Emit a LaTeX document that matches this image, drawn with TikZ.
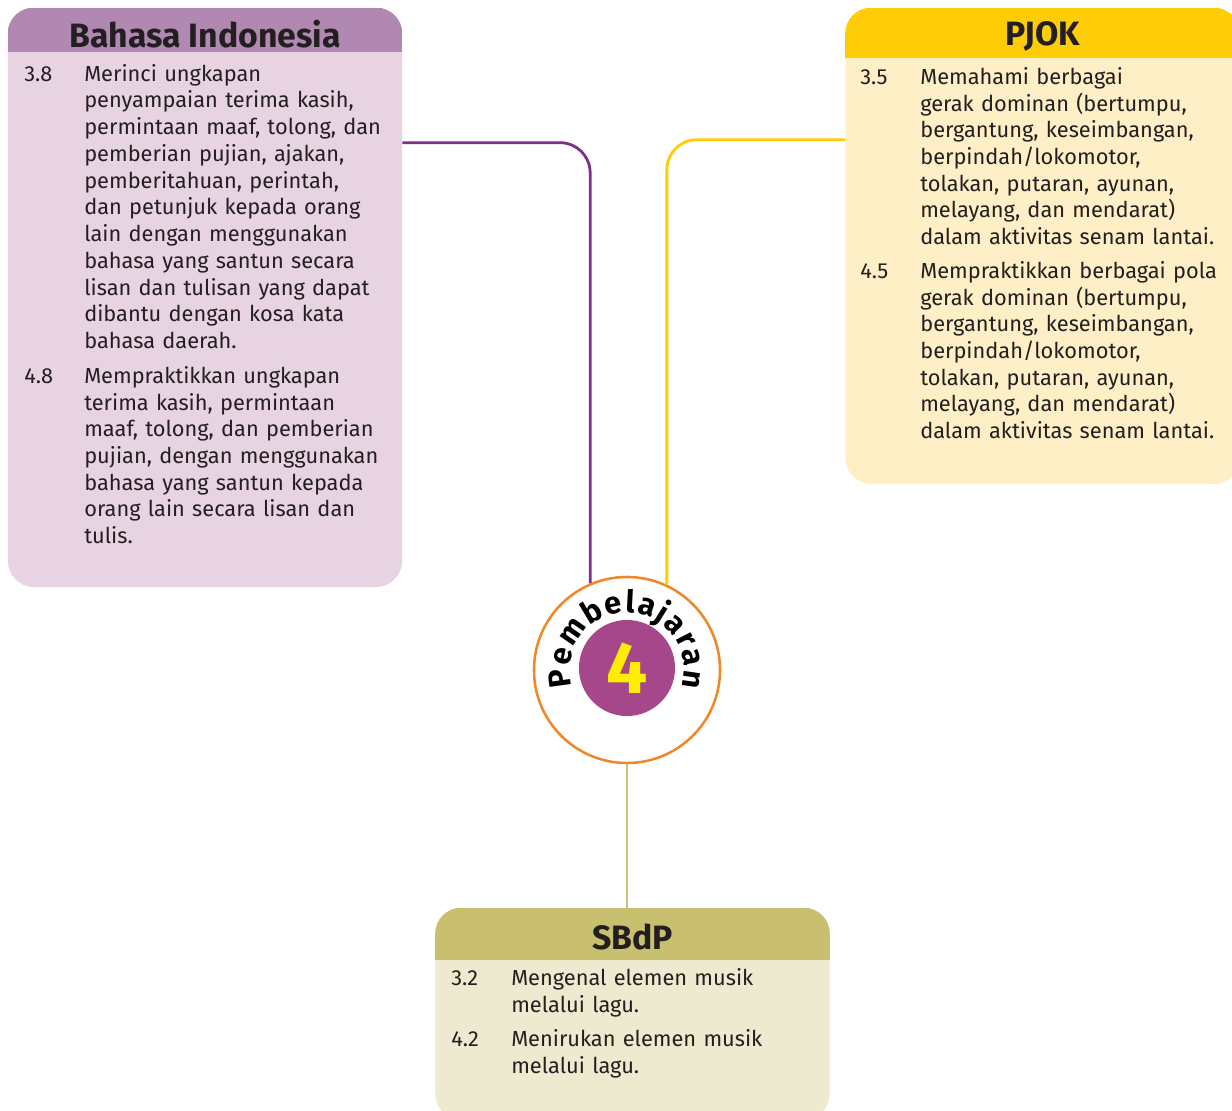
\documentclass[tikz,border=0pt]{standalone}
\usepackage{fontspec}
\setmainfont{Fira Sans}
\usetikzlibrary{decorations.text}

\definecolor{bindhead}{HTML}{B088B2}
\definecolor{bindbody}{HTML}{E8D3E3}
\definecolor{bindline}{HTML}{7E2F87}
\definecolor{pjokhead}{HTML}{FFCC08}
\definecolor{pjokbody}{HTML}{FFEFC6}
\definecolor{sbdphead}{HTML}{C8C06E}
\definecolor{sbdpbody}{HTML}{EEEAD0}
\definecolor{sbdpline}{HTML}{C9C27A}
\definecolor{ringline}{HTML}{F0882A}
\definecolor{ringfill}{HTML}{A5478A}
\definecolor{numyellow}{HTML}{FFEE00}
\definecolor{inktext}{HTML}{231F20}

\newcommand{\kdfont}{\fontsize{15.5}{19}\selectfont}
\newcommand{\headfont}{\fontsize{24}{28}\selectfont\bfseries}
\newcommand{\pemfont}{\fontsize{22}{22}\selectfont\bfseries}
\newcommand{\kditem}[2]{\makebox[1.5cm][l]{#1}\parbox[t]{8cm}{#2}}

\begin{document}
\begin{tikzpicture}[
    x=0.025cm, y=0.025cm,
    subjbox/.style={rectangle, rounded corners=0.65cm, minimum width=9.85cm, inner sep=0pt},
    headtext/.style={font=\headfont, text=inktext, inner sep=0pt},
    listtext/.style={anchor=north west, font=\kdfont, text=inktext, text width=9.6cm, align=left, inner sep=0pt},
    link/.style={line width=2pt, rounded corners=0.75cm}
]
\path[clip] (0,0) rectangle (1232,-1111);
\useasboundingbox (0,0) rectangle (1232,-1111);

% Subject boxes
\node[subjbox, fill=bindbody, minimum height=14.475cm] (bind) at (205,-297.5) {};
\node[subjbox, fill=pjokbody, minimum height=11.9cm] (pjok) at (1042.5,-246) {};
\node[subjbox, fill=sbdpbody, minimum height=5.3cm] (sbdp) at (632.5,-1014) {};

% Header bands
\begin{scope}
  \clip[rounded corners=0.65cm] (bind.south west) rectangle (bind.north east);
  \fill[bindhead] (bind.north west) rectangle ([yshift=-1.1cm]bind.north east);
\end{scope}
\begin{scope}
  \clip[rounded corners=0.65cm] (pjok.south west) rectangle (pjok.north east);
  \fill[pjokhead] (pjok.north west) rectangle ([yshift=-1.25cm]pjok.north east);
\end{scope}
\begin{scope}
  \clip[rounded corners=0.65cm] (sbdp.south west) rectangle (sbdp.north east);
  \fill[sbdphead] (sbdp.north west) rectangle ([yshift=-1.3cm]sbdp.north east);
\end{scope}

\node[headtext] (bindtitle) at ([yshift=-0.65cm]bind.north) {Bahasa Indonesia};
\node[headtext] (pjoktitle) at ([yshift=-0.72cm]pjok.north) {PJOK};
\node[headtext] (sbdptitle) at ([yshift=-0.72cm]sbdp.north) {SBdP};

% Competence lists
\node[listtext] (bindkd3) at (24,-64) {%
\kditem{3.8}{Merinci ungkapan\\ penyampaian terima kasih,\\ permintaan maaf, tolong, dan\\ pemberian pujian, ajakan,\\ pemberitahuan, perintah,\\ dan petunjuk kepada orang\\ lain dengan menggunakan\\ bahasa yang santun secara\\ lisan dan tulisan yang dapat\\ dibantu dengan kosa kata\\ bahasa daerah.}};
\node[listtext] (bindkd4) at (24,-366) {%
\kditem{4.8}{Mempraktikkan ungkapan\\ terima kasih, permintaan\\ maaf, tolong, dan pemberian\\ pujian, dengan menggunakan\\ bahasa yang santun kepada\\ orang lain secara lisan dan\\ tulis.}};

\node[listtext] (pjokkd3) at (860,-67) {%
\kditem{3.5}{Memahami berbagai\\ gerak dominan (bertumpu,\\ bergantung, keseimbangan,\\ berpindah/lokomotor,\\ tolakan, putaran, ayunan,\\ melayang, dan mendarat)\\ dalam aktivitas senam lantai.}};
\node[listtext] (pjokkd4) at (860,-261) {%
\kditem{4.5}{Mempraktikkan berbagai pola\\ gerak dominan (bertumpu,\\ bergantung, keseimbangan,\\ berpindah/lokomotor,\\ tolakan, putaran, ayunan,\\ melayang, dan mendarat)\\ dalam aktivitas senam lantai.}};

\node[listtext] (sbdpkd3) at (451,-968) {%
\kditem{3.2}{Mengenal elemen musik\\ melalui lagu.}};
\node[listtext] (sbdpkd4) at (451,-1029) {%
\kditem{4.2}{Menirukan elemen musik\\ melalui lagu.}};

% Centre badge
\node[circle, draw=ringline, line width=1.8pt, fill=white, minimum size=4.65cm, inner sep=0pt] (ring) at (627,-670) {};
\node[circle, fill=ringfill, minimum size=2.4cm, inner sep=0pt, font=\fontsize{52}{52}\selectfont\bfseries, text=numyellow] (num) at (627,-668) {4};
\path[decorate, decoration={text along path, text={|\pemfont|Pembelajaran}, text align={fit to path}}]
  ([shift={(197:1.43cm)}]ring.center) arc[start angle=197, end angle=-17, radius=1.43cm];

% Connectors
\draw[link, bindline] ([yshift=-3.375cm]bind.north east) -| (ring.113);
\draw[link, pjokhead] ([yshift=-3.3cm]pjok.north west) -| (ring.65);
\draw[line width=1.8pt, sbdpline] (ring.south) -- (ring.south |- sbdp.north);
\end{tikzpicture}
\end{document}
